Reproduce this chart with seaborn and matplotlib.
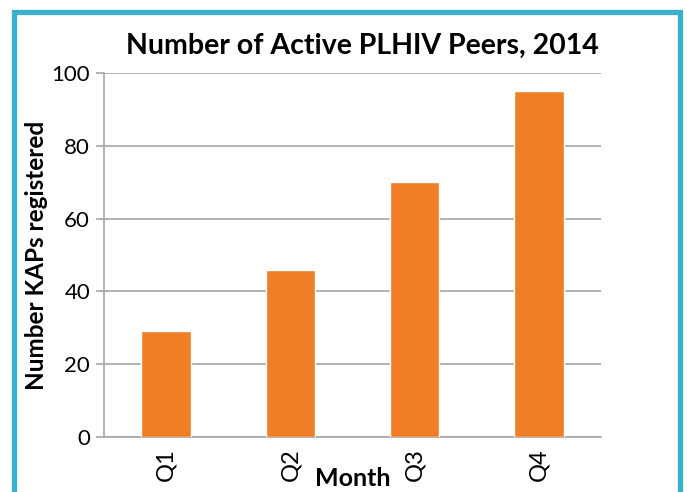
import pandas as pd
import matplotlib
matplotlib.use("Agg")
import matplotlib.pyplot as plt
import matplotlib.patches as patches
import seaborn as sns

# data
quarters = ["Q1", "Q2", "Q3", "Q4"]
peers = [29, 46, 70, 95]

df = pd.DataFrame({"Quarter": quarters, "Peers": peers})

sns.set_style("white")
plt.rcParams["font.family"] = ["Lato", "DejaVu Sans"]
plt.rcParams["text.color"] = "black"
plt.rcParams["axes.labelcolor"] = "black"

grey = "#A6A6A6"
orange = "#F07E26"

fig = plt.figure(figsize=(6.87, 4.92), dpi=100)
ax = fig.add_axes([104 / 687, 1 - 437 / 492, 497 / 687, 364 / 492])

sns.barplot(data=df, x="Quarter", y="Peers", color=orange, width=0.4,
            saturation=1, ax=ax, zorder=3)

ax.set_ylim(0, 100)
ax.set_yticks(range(0, 101, 20))
ax.set_xlim(-0.5, 3.5)
ax.yaxis.grid(True, color=grey, linewidth=1.2, zorder=0)
ax.set_axisbelow(True)

for s in ["top", "right"]:
    ax.spines[s].set_visible(False)
for s in ["left", "bottom"]:
    ax.spines[s].set_color(grey)
    ax.spines[s].set_linewidth(1.2)

# tick marks sit between the categories
ax.set_xticks([-0.5, 0.5, 1.5, 2.5, 3.5], minor=True)
ax.tick_params(axis="x", which="major", length=0, pad=8, labelsize=17,
               labelrotation=90, labelcolor="black")
ax.tick_params(axis="x", which="minor", length=6, width=1.2, color=grey)
ax.tick_params(axis="y", length=6, width=1.2, color=grey, labelsize=16, pad=4,
               left=True, labelcolor="black")

ax.set_xlabel("Month", fontsize=18, fontweight="bold")
ax.xaxis.set_label_coords(0.5, -0.113)
ax.xaxis.label.set_va("center")
ax.set_ylabel("Number KAPs registered", fontsize=17.5, fontweight="bold")
ax.yaxis.set_label_coords(-0.135, 0.5)
ax.yaxis.label.set_va("center")

fig.text(362 / 687, 1 - 46 / 492, "Number of Active PLHIV Peers, 2014",
         ha="center", va="center", fontsize=20.5, fontweight="bold")

# blue frame round the chart
frame = patches.Rectangle((13.5 / 687, -0.05), 666.5 / 687, 1.05 - 12 / 492,
                          transform=fig.transFigure, fill=False,
                          edgecolor="#3AB0CF", linewidth=3.8, clip_on=False)
fig.patches.append(frame)

fig.savefig("out.png", dpi=100)
